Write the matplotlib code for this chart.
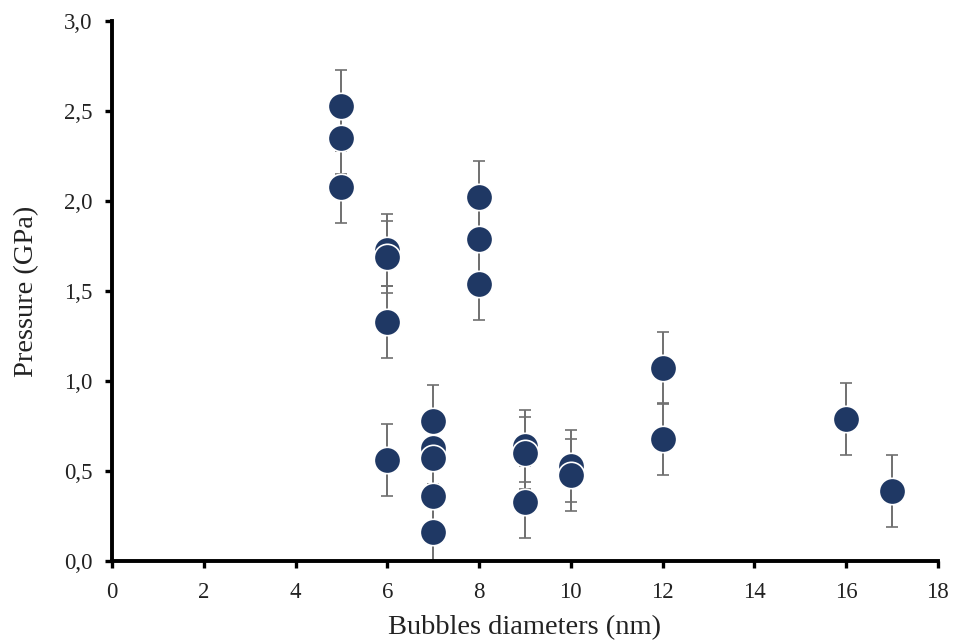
import matplotlib

matplotlib.use("Agg")
import matplotlib.pyplot as plt
from matplotlib.ticker import FuncFormatter, MultipleLocator

# bubble diameter (nm) and pressure (GPa)
DIAMETERS = [5, 5, 5, 6, 6, 6, 6, 7, 7, 7, 7, 7, 8, 8, 8, 9, 9, 9, 10, 10, 12, 12, 16, 17]
PRESSURES = [2.53, 2.35, 2.08, 1.73, 1.69, 1.33, 0.56, 0.78, 0.63, 0.57, 0.36, 0.16,
             2.02, 1.79, 1.54, 0.64, 0.60, 0.33, 0.53, 0.48, 1.07, 0.68, 0.79, 0.39]
ERRORS = [0.2] * len(PRESSURES)

X_TICKS = list(range(0, 19, 2))

plt.rcParams["font.family"] = ["Liberation Serif", "DejaVu Serif"]

fig = plt.figure(figsize=(9.54, 6.42), dpi=100, facecolor="white")
ax = fig.add_axes([0.1174, 0.1262, 0.8656, 0.8411])

ax.errorbar(DIAMETERS, PRESSURES, yerr=ERRORS, fmt="none", ecolor="#707070",
            elinewidth=1.4, capsize=4, capthick=1.2, zorder=1)
ax.plot(DIAMETERS, PRESSURES, "o", color="#1f3864", markersize=19,
        markeredgecolor="white", markeredgewidth=1.2, zorder=2, linestyle="none")

ax.set_xlim(0, 18)
ax.set_ylim(0, 3.0)
ax.set_xticks(X_TICKS)
ax.yaxis.set_major_locator(MultipleLocator(0.5))
ax.yaxis.set_major_formatter(FuncFormatter(lambda v, _: f"{v:.1f}".replace(".", ",")))

for side in ("top", "right"):
    ax.spines[side].set_visible(False)
for side in ("left", "bottom"):
    ax.spines[side].set_linewidth(2.8)
ax.tick_params(direction="out", length=5, width=2.4, labelsize=16.5, colors="black")
ax.tick_params(axis="x", pad=10, labelcolor="#222222")
ax.tick_params(axis="y", pad=9, labelcolor="#222222")

ax.set_xlabel("Bubbles diameters (nm)", fontsize=20.5, labelpad=9, color="#222222")
ax.set_ylabel("Pressure (GPa)", fontsize=20.5, labelpad=18, color="#222222")

fig.savefig("out.png", dpi=100, facecolor="white")
